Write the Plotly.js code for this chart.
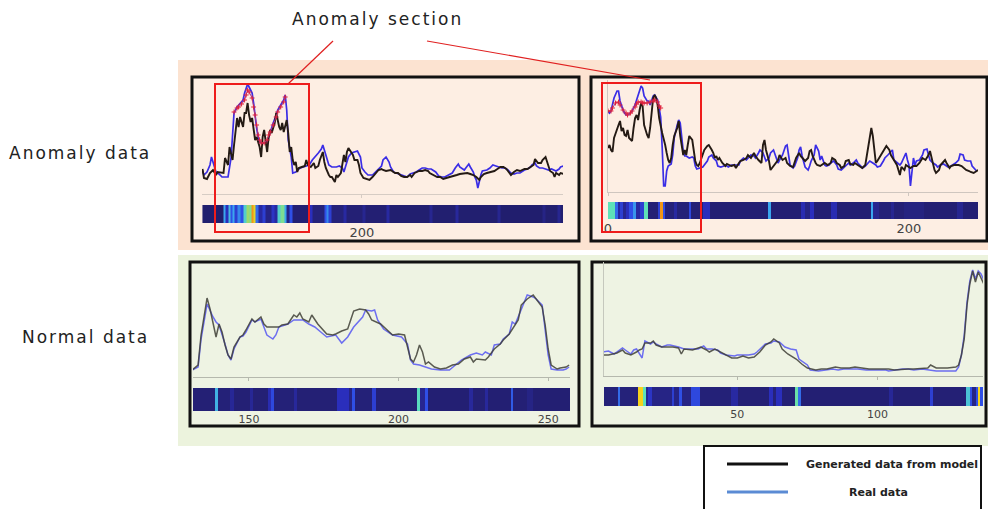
<!DOCTYPE html>
<html>
<head>
<meta charset="utf-8">
<script src="https://cdn.plot.ly/plotly-3.0.1.min.js"></script>
<style>html,body{margin:0;padding:0;background:#fff;}#chart{width:988px;height:509px;}</style>
</head>
<body>
<div id="chart"></div>
<script>
// ---------------- DATA ----------------
// Panel 1 (anomaly, left)
const p1GenX = [94,95,97,99,101,103,104,107,108,109,111,112,114,115,116,117,118,119,121,122,123,124,125,126,127,128,129,130,131,132,133,134,135,136,137,138,139,140,142,143,144,145,146,147,148,149,150,151,152,153,154,155,156,157,158,160,162,163,164,166,168,169,171,172,174,175,176,178,179,180,182,183,184,186,187,188,189,190,191,193,194,195,197,198,199,201,203,205,207,209,211,213,214,216,219,222,224,226,228,230,232,233,235,238,240,242,244,245,248,250,252,254,256,259,261,263,265,268,270,272,274,276,278,279,281,283,285,288,290,292,294,296,298,299,301,303,305,308,310,312,314,315,317,319,320,322,323,324,325,327,328,329,331,332,334];
const p1GenY = [25,16,15,21,24,19,22,21,21,36,29,47,34,49,61,76,67,77,67,81,81,91,79,72,76,67,54,57,52,47,37,57,64,54,42,57,64,61,71,81,74,67,64,71,62,67,74,61,42,47,34,29,32,22,26,27,28,34,29,27,31,26,28,34,42,32,26,19,17,17,12,19,17,21,32,39,32,42,46,41,39,34,34,29,21,16,15,14,17,21,24,25,24,23,24,21,21,18,17,17,19,17,21,23,23,24,23,21,19,17,17,15,16,17,18,19,20,21,21,20,19,17,14,17,20,21,22,23,25,27,27,25,21,19,22,24,23,25,25,27,29,35,31,31,34,37,32,27,23,21,17,21,19,21,20];
const p1RealX = [94,95,97,99,100,102,103,105,107,109,111,113,114,115,117,118,119,121,122,123,124,125,127,128,129,130,131,132,133,135,137,138,139,141,143,144,146,148,149,150,151,153,154,156,158,159,161,163,165,167,169,171,173,174,175,177,178,180,182,183,185,187,188,190,191,193,195,197,199,200,202,204,207,209,211,213,214,215,216,218,219,221,223,225,228,230,232,234,236,238,240,242,244,246,249,251,253,255,258,260,262,264,265,268,269,271,272,274,275,276,277,278,279,280,283,285,287,289,291,293,295,297,299,301,303,305,308,310,312,313,315,316,318,320,322,324,326,329,331,332,334];
const p1RealY = [24,19,22,29,37,26,22,20,17,17,17,36,61,81,87,89,91,94,101,107,110,107,101,91,77,66,57,52,51,51,52,57,62,71,79,84,89,94,99,84,54,37,21,22,25,26,27,28,29,34,37,41,45,49,44,34,29,27,27,27,28,26,22,31,37,41,42,43,37,26,22,19,19,22,26,28,34,36,37,32,27,22,21,20,18,17,20,21,22,24,26,26,25,25,22,18,17,17,19,21,26,30,27,24,26,30,27,22,17,14,6,14,19,23,24,26,29,28,27,26,26,24,21,20,21,21,24,25,27,29,31,28,26,26,25,24,25,23,25,27,28];
const p1MarkX = [115,117,118,120,122,123,124,125,127,128,129,130,131,132,133,135,137,138,139,141,143,144,146,148,149];
const p1MarkY = [82,86,87,90,94,99,104,102,96,87,79,69,59,54,51,51,54,59,62,69,77,82,87,92,97];

// Panel 2 (anomaly, right)
const p2GenX = [0,1,2,3,4,6,7,8,9,10,11,12,13,14,16,17,18,19,20,21,22,23,24,26,27,28,29,30,31,32,33,34,36,37,38,39,40,41,42,43,44,46,47,48,49,50,51,52,53,54,56,57,58,59,60,61,62,63,64,66,67,69,70,71,72,73,74,76,77,78,79,81,82,84,85,87,88,90,92,93,95,97,98,100,102,103,104,105,107,108,110,111,113,114,116,118,119,121,123,125,127,128,129,131,133,134,135,136,138,139,141,143,144,146,148,149,151,152,154,155,157,158,160,161,163,164,166,168,169,171,172,173,174,175,176,177,178,179,181,182,184,185,187,188,190,192,193,194,195,197,198,200,201,203,205,207,208,209,211,213,214,215,217,218,220,221,223,224,225,227,228,230,232,233,235,237,238,240,241,243,245,246];
const p2GenY = [44,47,42,40,54,64,67,71,61,64,57,56,62,54,51,64,74,77,72,82,89,86,67,57,54,64,81,94,97,94,87,74,59,54,47,39,32,29,34,47,56,64,71,56,46,37,42,37,47,56,52,39,31,27,26,29,34,39,42,46,47,42,39,34,36,32,34,29,27,26,28,27,26,27,24,29,31,32,34,37,34,39,36,32,29,47,52,42,31,22,26,27,32,37,32,34,29,26,25,34,39,36,34,31,34,41,42,36,29,27,26,28,29,27,29,34,32,29,27,24,26,31,32,28,27,29,27,25,24,27,37,46,57,64,56,41,29,31,36,39,43,46,42,37,32,27,22,17,25,22,27,25,24,26,26,29,32,34,32,37,41,34,22,19,22,27,31,32,29,24,26,27,27,27,26,23,22,21,20,19,21,22];
const p2RealX = [0,1,2,3,4,6,7,8,9,10,11,12,13,14,16,17,18,19,20,21,22,23,24,26,27,28,29,30,31,32,33,34,35,36,37,38,39,40,41,42,43,44,46,47,48,49,50,51,52,54,56,57,58,59,61,63,64,66,67,69,70,72,73,75,77,78,80,82,84,87,88,90,92,93,95,97,98,100,101,103,104,105,107,108,110,111,113,114,116,118,119,120,121,123,124,126,127,128,129,131,133,134,135,137,138,140,141,142,144,145,147,148,150,152,153,155,157,158,160,161,163,165,166,168,169,171,173,174,176,178,179,181,183,184,186,187,189,190,192,194,195,197,198,199,200,201,202,203,204,205,207,209,210,212,213,214,216,218,219,221,223,224,226,228,229,231,233,234,236,237,239,241,242,244,245];
const p2RealY = [81,79,81,87,94,101,101,91,86,82,79,77,77,78,81,84,87,92,96,101,106,104,96,91,91,87,92,96,97,94,92,84,75,45,6,6,21,26,27,28,37,54,67,72,69,56,41,36,36,34,35,34,26,23,24,25,27,31,35,37,34,31,26,25,26,27,25,27,27,27,31,34,32,34,37,36,34,39,42,39,34,31,34,39,42,37,29,32,37,46,47,37,27,24,26,34,42,45,36,25,22,26,31,37,47,41,32,36,27,26,27,29,31,27,23,22,25,26,29,27,29,32,29,26,24,26,29,31,29,27,25,26,31,34,37,39,42,32,29,27,29,35,39,32,27,6,24,34,27,31,32,37,42,43,37,32,29,27,25,27,28,27,25,26,27,29,32,38,37,32,31,31,26,22,21];
const p2MarkX = [0,2,3,5,7,8,10,12,13,15,16,18,19,20,22,23,24,26,28,30,31,33,34,35];
const p2MarkY = [81,81,84,89,90,87,82,79,77,79,81,85,88,90,90,89,89,89,90,91,92,90,86,84];

// Panel 3 (normal, left)
const p3GenX = [131,133,134,136,137,138,139,140,141,142,143,144,145,147,148,149,151,152,154,155,156,158,160,161,163,165,166,167,168,170,171,173,174,176,178,179,181,183,184,185,187,189,190,191,194,196,198,200,202,203,204,205,206,207,208,209,210,212,214,216,218,220,222,224,225,226,229,230,232,234,235,237,239,240,241,243,245,246,248,249,250,251,253,254,256,257];
const p3GenY = [7,12,42,79,68,55,40,53,45,32,22,18,30,40,42,47,58,55,60,53,50,50,50,52,53,62,60,64,58,55,62,53,50,43,42,43,46,48,57,66,68,67,63,57,53,47,42,43,42,30,18,15,22,32,25,13,15,10,8,9,12,13,18,20,15,18,17,20,28,33,37,43,52,57,72,78,82,78,70,52,28,12,8,9,10,12];
const p3RealX = [131,133,134,136,138,139,140,141,142,143,144,145,147,148,149,151,152,154,155,156,158,159,160,163,165,168,170,172,174,176,179,181,183,185,188,189,191,192,193,195,198,201,203,204,205,207,209,211,214,217,219,221,224,226,228,229,231,232,234,235,237,238,239,241,243,245,246,248,249,250,251,253,255,256,257];
const p3RealY = [7,10,38,73,60,55,52,43,33,22,17,28,40,41,45,57,55,58,50,42,38,42,50,53,57,57,53,50,45,40,42,34,40,50,60,67,66,67,57,48,42,40,33,17,13,12,10,8,7,7,12,17,22,24,22,25,22,32,33,38,43,55,53,68,82,80,78,72,45,22,8,7,7,8,10];

// Panel 4 (normal, right)
const p4GenX = [2,4,7,9,10,12,14,15,16,17,19,20,21,23,25,27,29,30,31,34,35,37,39,40,42,44,46,48,50,52,54,56,58,60,62,63,65,66,68,71,73,75,78,80,82,85,87,90,92,94,97,99,101,104,106,109,111,113,116,118,119,121,124,125,128,129,130,131,132,133,134,135,136,137,138];
const p4GenY = [21,21,23,26,23,21,24,26,27,33,33,35,31,29,29,29,28,22,27,26,27,29,26,24,27,24,21,18,18,20,18,19,24,31,34,37,33,27,22,17,12,8,6,7,7,9,8,8,9,8,7,7,7,7,6,7,7,7,8,8,11,8,8,8,9,11,21,37,71,92,105,94,104,97,92];
const p4RealX = [2,4,6,8,9,10,12,13,14,16,17,19,20,21,23,25,26,29,31,34,36,38,39,41,43,44,46,49,50,52,54,56,57,60,62,63,65,67,69,71,72,75,76,79,81,84,86,88,91,93,96,98,100,103,104,106,109,111,113,116,118,121,123,125,128,129,130,131,132,133,134,135,136,137,138];
const p4RealY = [24,25,22,26,28,26,22,26,27,18,35,32,34,32,29,31,31,29,27,27,27,30,27,27,26,23,21,20,21,21,21,22,24,32,33,35,34,29,27,26,17,11,6,5,6,7,6,7,7,7,6,6,6,6,5,6,7,7,6,7,6,5,5,5,5,9,21,41,74,95,106,97,105,102,96];

// Heat strips: bin edges and scores
const h1Edges = [94,108,109.5,111,112.5,114,115.5,117,119,121,123,125,126.5,128,129.5,131,134,136,140,142,144,146,148.5,150,152,153.5,165,167,175,176.5,178,180,188,190,200,202,216,218,245,247,262,264,290,292,320,322,330,332,334];
const h1Score = [0.03,0.45,0.2,0.5,0.3,0.45,0.25,0.4,0.3,0.55,0.7,0.65,0.95,0.82,0.35,0.15,0.25,0.1,0.22,0.15,0.55,0.65,0.45,0.1,0.3,0.05,0.2,0.08,0.3,0.4,0.25,0.08,0.15,0.06,0.12,0.05,0.15,0.04,0.12,0.04,0.14,0.04,0.12,0.03,0.1,0.04,0.12,0.04];
const h2Edges = [0,4.5,6.5,8,10,12,14,16.5,18.5,21,24,26.7,33,34.8,36.8,38,44,46,53.5,55,63,68,106.5,108,128,131,134,137,148,152,174.5,176,180,188,190,197,210,232,236,246];
const h2Score = [0.6,0.35,0.15,0.25,0.12,0.2,0.3,0.42,0.15,0.25,0.6,0.06,0.25,0.95,0.3,0.08,0.15,0.07,0.28,0.06,0.2,0.05,0.45,0.05,0.18,0.1,0.2,0.05,0.18,0.05,0.45,0.12,0.07,0.12,0.06,0.09,0.05,0.12,0.05];
const h3Edges = [131.3,138.5,139.5,143.5,145,150.5,151.5,156.5,157.5,158.5,165,166,179.5,183.5,184.5,185.5,191,192.5,206.3,207.3,209,210,223.5,225,229,230,237.5,238.3,243,245,257.3];
const h3Score = [0.06,0.48,0.07,0.13,0.06,0.13,0.06,0.18,0.28,0.07,0.14,0.06,0.2,0.1,0.3,0.07,0.25,0.06,0.58,0.12,0.3,0.05,0.14,0.06,0.14,0.05,0.32,0.06,0.1,0.05];
const h4Edges = [2.4,7.3,8.2,14.5,16.2,17.4,18.2,19.4,26.6,27.5,29.3,30.3,33.5,36.5,47.8,50.2,61.4,62.8,63.8,65.8,70.5,71.6,72.6,104.3,105.7,118.6,120,131.7,133,133.9,135.3,136,136.7,137.7];
const h4Score = [0.07,0.35,0.08,0.85,0.6,0.12,0.22,0.1,0.25,0.1,0.3,0.1,0.28,0.07,0.15,0.06,0.2,0.08,0.2,0.06,0.62,0.35,0.05,0.13,0.05,0.25,0.06,0.52,0.3,0.1,0.3,0.85,0.3];

const ticks1 = [200], ticks2 = [0, 200], ticks3 = [150, 200, 250], ticks4 = [50, 100];
const range1 = [93.7, 333.6], range2 = [0, 245.9], range3 = [131.3, 257.3], range4 = [2.4, 137.7];

const rowLabels = ["Anomaly data", "Normal data"];
const sectionLabel = "Anomaly section";
const legendLabels = ["Generated data from model", "Real data"];

// ---------------- LAYOUT HELPERS ----------------
const W = 988, H = 509;
const fx = p => p / W;
const fy = p => 1 - p / H;
const dx = (a, b) => [fx(a), fx(b)];
const dy = (top, bottom) => [fy(bottom), fy(top)];

const heatScale = [[0,'#1f1b66'],[0.08,'#25227a'],[0.2,'#2a2ebc'],[0.3,'#2f4fe6'],[0.45,'#3aa6ee'],[0.6,'#5ee2b8'],[0.72,'#a8d65e'],[0.85,'#f5d21c'],[1,'#f07814']];

function lineTrace(x, y, color, width, n, opacity) {
  return {type:'scatter', mode:'lines', x:x, y:y, xaxis:'x'+(n===1?'':n), yaxis:'y'+(n===1?'':n),
    line:{color:color, width:width}, opacity: opacity||1, hoverinfo:'skip', showlegend:false};
}
function markTrace(x, y, n) {
  return {type:'scatter', mode:'lines+markers', x:x, y:y, xaxis:'x'+n, yaxis:'y'+n,
    line:{color:'#a83a86', width:1}, marker:{symbol:'cross-thin', size:3.5, line:{color:'#e0203a', width:1}},
    hoverinfo:'skip', showlegend:false};
}
function heatTrace(edges, score, n) {
  return {type:'heatmap', x:edges, y:[0], z:[score], xaxis:'x'+n, yaxis:'y'+n, zmin:0, zmax:1,
    colorscale:heatScale, showscale:false, hoverinfo:'skip', zsmooth:false};
}

const topBlack = '#241a14', topBlue = '#3a2de6';
const botBlack = '#3e3e36', botBlue = '#6c6ef0';

const data = [
  lineTrace(p1RealX, p1RealY, topBlue, 1.7, 1),
  lineTrace(p1GenX, p1GenY, topBlack, 1.9, 1),
  markTrace(p1MarkX, p1MarkY, ''),
  lineTrace(p2RealX, p2RealY, topBlue, 1.7, 2),
  lineTrace(p2GenX, p2GenY, topBlack, 1.9, 2),
  markTrace(p2MarkX, p2MarkY, 2),
  lineTrace(p3RealX, p3RealY, botBlue, 1.5, 3),
  lineTrace(p3GenX, p3GenY, botBlack, 1.5, 3, 0.85),
  lineTrace(p4RealX, p4RealY, botBlue, 1.5, 4),
  lineTrace(p4GenX, p4GenY, botBlack, 1.5, 4, 0.85),
  heatTrace(h1Edges, h1Score, 5),
  heatTrace(h2Edges, h2Score, 6),
  heatTrace(h3Edges, h3Score, 7),
  heatTrace(h4Edges, h4Score, 8)
];

function lineX(dom, range, ticks, anchor, lc) {
  return {domain:dom, range:range, anchor:anchor, showgrid:false, zeroline:false, showline:true,
    linecolor:lc, linewidth:1, ticks:'outside', ticklen:3, tickcolor:lc, tickmode:'array',
    tickvals:ticks, showticklabels:false, fixedrange:true};
}
function lineY(dom, range, anchor, show, lc) {
  return {domain:dom, range:range, anchor:anchor, showgrid:false, zeroline:false,
    showline:show, linecolor:lc||'#bbb', linewidth:1, ticks:'', showticklabels:false, fixedrange:true};
}
function heatX(dom, range, ticks, anchor, size) {
  return {domain:dom, range:range, anchor:anchor, showgrid:false, zeroline:false, showline:false,
    ticks:'', tickmode:'array', tickvals:ticks, ticklen:0,
    tickfont:{family:'DejaVu Sans', size:size, color:'#444'}, fixedrange:true};
}
function heatY(dom, anchor) {
  return {domain:dom, range:[-0.5,0.5], anchor:anchor, visible:false, fixedrange:true};
}

function rect(x0, y0, x1, y1, fill, lineColor, lw, layer) {
  return {type:'rect', xref:'paper', yref:'paper', x0:fx(x0), x1:fx(x1), y0:fy(y0), y1:fy(y1),
    fillcolor:fill, line:{color:lineColor, width:lw}, layer:layer||'below'};
}
function seg(x0, y0, x1, y1, color, lw) {
  return {type:'line', xref:'paper', yref:'paper', x0:fx(x0), x1:fx(x1), y0:fy(y0), y1:fy(y1),
    line:{color:color, width:lw}, layer:'above'};
}

const shapes = [
  rect(178, 60, 988, 250, '#fce3d1', 'rgba(0,0,0,0)', 0),
  rect(178, 255, 988, 446, '#ecf3dd', 'rgba(0,0,0,0)', 0),
  rect(192, 77, 579, 241, '#fdeee3', '#111', 3),
  rect(591, 77, 987, 241, '#fdeee3', '#111', 3),
  rect(190, 262, 579, 426, '#eef3e3', '#111', 3),
  rect(592, 262, 986, 426, '#eef3e3', '#111', 3),
  rect(215, 84, 309, 232, 'rgba(0,0,0,0)', '#ee1c1c', 2, 'above'),
  rect(602, 83, 701, 232, 'rgba(0,0,0,0)', '#ee1c1c', 2, 'above'),
  seg(333, 41, 288, 84, '#e02020', 1.2),
  seg(427, 41, 650, 80, '#e02020', 1.2),
  rect(704, 446, 981, 515, '#ffffff', '#111', 2, 'above'),
  seg(727, 464, 788, 464, '#111', 3),
  seg(727, 492, 788, 492, '#5b8bd4', 3)
];

const annFont = {family:'DejaVu Sans', size:17, color:'#222'};
const spaced = t => '<span style="letter-spacing:2px">' + t + '</span>';
const annotations = [
  {text:spaced(sectionLabel), x:fx(377), y:fy(19), xref:'paper', yref:'paper', showarrow:false, xanchor:'center', yanchor:'middle', font:annFont},
  {text:spaced(rowLabels[0]), x:fx(80), y:fy(153), xref:'paper', yref:'paper', showarrow:false, xanchor:'center', yanchor:'middle', font:annFont},
  {text:spaced(rowLabels[1]), x:fx(85), y:fy(337), xref:'paper', yref:'paper', showarrow:false, xanchor:'center', yanchor:'middle', font:annFont},
  {text:'<b>'+legendLabels[0]+'</b>', x:fx(892), y:fy(464), xref:'paper', yref:'paper', showarrow:false, xanchor:'center', yanchor:'middle', font:{family:'DejaVu Sans', size:11, color:'#222'}},
  {text:'<b>'+legendLabels[1]+'</b>', x:fx(878), y:fy(492), xref:'paper', yref:'paper', showarrow:false, xanchor:'center', yanchor:'middle', font:{family:'DejaVu Sans', size:11, color:'#222'}}
];

const layout = {
  width:W, height:H, autosize:false, margin:{l:0, r:0, t:0, b:0},
  paper_bgcolor:'#ffffff', plot_bgcolor:'rgba(0,0,0,0)', showlegend:false,
  xaxis:  lineX(dx(202, 563), range1, ticks1, 'y',  '#d6ccc4'),
  yaxis:  lineY(dy(82, 194), [0, 112], 'x', false),
  xaxis2: lineX(dx(608, 978), range2, ticks2, 'y2', '#cfc6bf'),
  yaxis2: lineY(dy(80, 192), [0, 112], 'x2', true, '#cfc6bf'),
  xaxis3: lineX(dx(193, 570), range3, ticks3, 'y3', '#b5b8ad'),
  yaxis3: lineY(dy(263, 377), [0, 114], 'x3', false),
  xaxis4: lineX(dx(604, 983), range4, ticks4, 'y4', '#b5b8ad'),
  yaxis4: lineY(dy(262, 376), [0, 114], 'x4', true, '#c5c8bd'),
  xaxis5: heatX(dx(202, 563), range1, ticks1, 'y5', 13),
  yaxis5: heatY(dy(205, 223), 'x5'),
  xaxis6: heatX(dx(608, 978), range2, ticks2, 'y6', 13),
  yaxis6: heatY(dy(202, 219), 'x6'),
  xaxis7: heatX(dx(193, 570), range3, ticks3, 'y7', 11),
  yaxis7: heatY(dy(388, 411), 'x7'),
  xaxis8: heatX(dx(604, 983), range4, ticks4, 'y8', 11),
  yaxis8: heatY(dy(387, 406), 'x8'),
  shapes:shapes, annotations:annotations
};

Plotly.newPlot('chart', data, layout, {staticPlot:true, displayModeBar:false});
</script>
</body>
</html>
